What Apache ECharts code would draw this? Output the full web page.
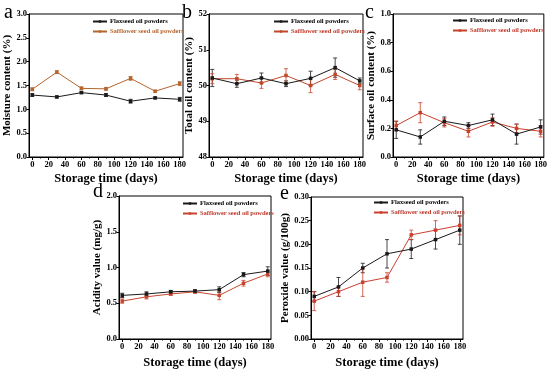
<!DOCTYPE html>
<html>
<head>
<meta charset="utf-8">
<script src="https://cdn.jsdelivr.net/npm/echarts@6/dist/echarts.min.js"></script>
<style>html,body{margin:0;padding:0;background:#fff}#c{width:550px;height:370px}</style>
</head>
<body>
<div id="c"></div>
<script>
// ---------- data ----------
var days = [0, 30, 60, 90, 120, 150, 180];
var seriesNames = ['Flaxseed oil powders', 'Safflower seed oil powders'];
var xTickLabels = [0, 20, 40, 60, 80, 100, 120, 140, 160, 180];
var xMinorTicks = [10, 30, 50, 70, 90, 110, 130, 150, 170];

var moistureFlax = [1.30, 1.26, 1.35, 1.30, 1.17, 1.24, 1.21];
var moistureFlaxErr = [0.03, 0.02, 0.02, 0.03, 0.04, 0.02, 0.04];
var moistureSaf = [1.42, 1.78, 1.44, 1.43, 1.65, 1.38, 1.54];
var moistureSafErr = [0.03, 0.03, 0.03, 0.03, 0.04, 0.02, 0.04];

var totalFlax = [50.21, 50.05, 50.21, 50.05, 50.20, 50.50, 50.13];
var totalFlaxErr = [0.24, 0.10, 0.14, 0.08, 0.20, 0.27, 0.08];
var totalSaf = [50.19, 50.19, 50.07, 50.28, 50.00, 50.31, 50.00];
var totalSafErr = [0.14, 0.12, 0.15, 0.19, 0.20, 0.14, 0.12];

var surfaceFlax = [0.19, 0.14, 0.25, 0.22, 0.26, 0.16, 0.21];
var surfaceFlaxErr = [0.06, 0.05, 0.03, 0.02, 0.04, 0.07, 0.05];
var surfaceSaf = [0.22, 0.31, 0.24, 0.18, 0.245, 0.20, 0.18];
var surfaceSafErr = [0.03, 0.07, 0.03, 0.04, 0.03, 0.03, 0.04];

var acidFlax = [0.61, 0.63, 0.66, 0.67, 0.69, 0.90, 0.95];
var acidFlaxErr = [0.03, 0.03, 0.02, 0.02, 0.04, 0.03, 0.06];
var acidSaf = [0.53, 0.59, 0.63, 0.66, 0.61, 0.78, 0.91];
var acidSafErr = [0.03, 0.03, 0.02, 0.02, 0.06, 0.04, 0.04];

var peroxFlax = [0.09, 0.11, 0.15, 0.18, 0.19, 0.21, 0.23];
var peroxFlaxErr = [0.01, 0.02, 0.01, 0.03, 0.02, 0.02, 0.03];
var peroxSaf = [0.08, 0.10, 0.12, 0.13, 0.22, 0.23, 0.24];
var peroxSafErr = [0.02, 0.01, 0.03, 0.01, 0.01, 0.02, 0.02];

var yTitles = ['Moisture content (%)', 'Total oil content (%)', 'Surface oil content (%)', 'Acidity value (mg/g)', 'Peroxide value (g/100g)'];
var panelLetters = ['a', 'b', 'c', 'd', 'e'];
var yMins = [0, 48, 0, 0, 0];
var yMaxs = [3.0, 52, 1.0, 2.0, 0.30];
var yIntervals = [0.5, 1, 0.2, 0.5, 0.05];
var yDecimals = [1, 0, 1, 1, 2];
var xTitle = 'Storage time (days)';

// ---------- layout / style ----------
var FONT = 'Liberation Serif';
var grids = [
  {left: 29, top: 14, width: 154, height: 143},
  {left: 209, top: 14, width: 154, height: 143},
  {left: 393, top: 14, width: 153, height: 143},
  {left: 119, top: 196, width: 152, height: 144},
  {left: 311, top: 197, width: 152, height: 143}
];
var yNameGaps = [16, 13, 15, 16, 20];
var xNameGaps = [15, 15, 15, 17, 17];
var flaxColor = '#1a1a1a';
var safColors = ['#b5652e', '#c0482c', '#c8402a', '#c8452d', '#cc4030'];
var safTextColors = ['#b5652e', '#c0392b', '#c0392b', '#c0392b', '#c0392b'];
var letterPos = [[4, 3], [182, 3], [365, 3], [93, 182], [280, 184]];
var legendPos = [[92, 18], [273, 18], [452, 17], [182, 200], [373, 199]];

var flaxData = [moistureFlax, totalFlax, surfaceFlax, acidFlax, peroxFlax];
var flaxErr = [moistureFlaxErr, totalFlaxErr, surfaceFlaxErr, acidFlaxErr, peroxFlaxErr];
var safData = [moistureSaf, totalSaf, surfaceSaf, acidSaf, peroxSaf];
var safErr = [moistureSafErr, totalSafErr, surfaceSafErr, acidSafErr, peroxSafErr];

function pairs(vals) { return days.map(function (d, i) { return [d, vals[i]]; }); }
function errs(vals, e) { return days.map(function (d, i) { return [d, vals[i] - e[i], vals[i] + e[i]]; }); }

function errRender(params, api) {
  var x = api.value(0);
  var lo = api.coord([x, api.value(1)]);
  var hi = api.coord([x, api.value(2)]);
  var w = 2;
  var st = {stroke: api.visual('color'), lineWidth: 0.8};
  return {
    type: 'group',
    children: [
      {type: 'line', shape: {x1: lo[0], y1: lo[1], x2: hi[0], y2: hi[1]}, style: st},
      {type: 'line', shape: {x1: lo[0] - w, y1: lo[1], x2: lo[0] + w, y2: lo[1]}, style: st},
      {type: 'line', shape: {x1: hi[0] - w, y1: hi[1], x2: hi[0] + w, y2: hi[1]}, style: st}
    ]
  };
}

var option = {
  animation: false,
  backgroundColor: '#fff',
  grid: [], xAxis: [], yAxis: [], series: [], legend: [], graphic: []
};

for (var p = 0; p < 5; p++) {
  var g = grids[p];
  option.grid.push({left: g.left, top: g.top, width: g.width, height: g.height, show: true,
    borderColor: '#000', borderWidth: 1, backgroundColor: 'transparent', containLabel: false});
  option.xAxis.push({
    type: 'value', gridIndex: p, min: -4, max: 184,
    name: xTitle, nameLocation: 'middle', nameGap: xNameGaps[p],
    nameTextStyle: {fontFamily: FONT, fontWeight: 'bold', fontSize: 12.5, color: '#000'},
    axisLine: {show: true, onZero: false, lineStyle: {color: '#000', width: 1}},
    axisTick: {show: true, inside: false, length: 3, customValues: xTickLabels, lineStyle: {color: '#000'}},
    axisLabel: {show: true, margin: 3, customValues: xTickLabels, fontFamily: FONT, fontWeight: 'bold', fontSize: 8.5, color: '#000'},
    splitLine: {show: false}
  });
  option.xAxis.push({
    type: 'value', gridIndex: p, min: -4, max: 184, position: 'bottom',
    axisLine: {show: false, onZero: false},
    axisTick: {show: true, length: 1.5, customValues: xMinorTicks, lineStyle: {color: '#000'}},
    axisLabel: {show: false, customValues: xMinorTicks},
    splitLine: {show: false}
  });
  (function (dec) {
    option.yAxis.push({
      type: 'value', gridIndex: p, min: yMins[p], max: yMaxs[p], interval: yIntervals[p],
      name: yTitles[p], nameLocation: 'middle', nameGap: yNameGaps[p],
      nameTextStyle: {fontFamily: FONT, fontWeight: 'bold', fontSize: 11, color: '#000'},
      axisLine: {show: true, onZero: false, lineStyle: {color: '#000', width: 1}},
      axisTick: {show: true, inside: false, length: 2.5, lineStyle: {color: '#000'}},
      axisLabel: {margin: 2, fontFamily: FONT, fontWeight: 'bold', fontSize: 8.5, color: '#000',
        formatter: function (v) { return v.toFixed(dec); }},
      splitLine: {show: false}
    });
  })(yDecimals[p]);

  var xi = p * 2;
  var sc = safColors[p];
  option.series.push({
    type: 'custom', xAxisIndex: xi, yAxisIndex: p, renderItem: errRender,
    itemStyle: {color: flaxColor}, data: errs(flaxData[p], flaxErr[p]), z: 3, silent: true
  });
  option.series.push({
    type: 'custom', xAxisIndex: xi, yAxisIndex: p, renderItem: errRender,
    itemStyle: {color: sc}, data: errs(safData[p], safErr[p]), z: 3, silent: true
  });
  option.series.push({
    name: seriesNames[0], type: 'line', xAxisIndex: xi, yAxisIndex: p,
    data: pairs(flaxData[p]), symbol: 'rect', symbolSize: 3.5,
    lineStyle: {color: flaxColor, width: 1}, itemStyle: {color: flaxColor}, z: 5
  });
  option.series.push({
    name: seriesNames[1], type: 'line', xAxisIndex: xi, yAxisIndex: p,
    data: pairs(safData[p]), symbol: 'rect', symbolSize: 3.5,
    lineStyle: {color: sc, width: 1}, itemStyle: {color: sc}, z: 4
  });

  option.legend.push({
    left: legendPos[p][0], top: legendPos[p][1], orient: 'vertical',
    itemWidth: 14, itemHeight: 3, itemGap: 3, padding: 0,
    textStyle: {fontFamily: FONT, fontWeight: 'bold', fontSize: 6.5, color: '#000', padding: [0, 0, 0, -2]},
    data: [
      {name: seriesNames[0], itemStyle: {color: flaxColor}, lineStyle: {color: flaxColor}},
      {name: seriesNames[1], itemStyle: {color: sc}, lineStyle: {color: sc}, textStyle: {color: safTextColors[p]}}
    ],
    selectedMode: false
  });

  option.graphic.push({
    type: 'text', left: letterPos[p][0], top: letterPos[p][1],
    style: {text: panelLetters[p], fontFamily: FONT, fontSize: 20, fill: '#000'}
  });
}

var chart = echarts.init(document.getElementById('c'), null, {renderer: 'canvas'});
chart.setOption(option);
</script>
</body>
</html>
